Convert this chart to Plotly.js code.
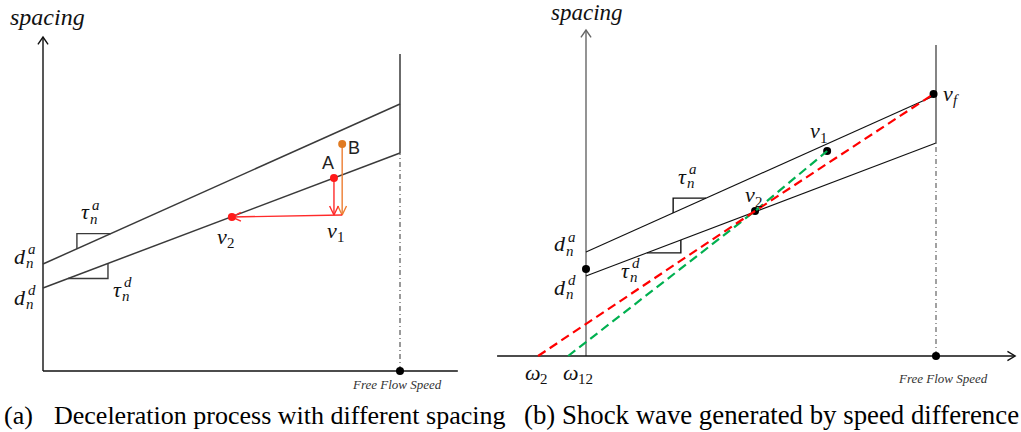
<!DOCTYPE html>
<html>
<head>
<meta charset="utf-8">
<script src="https://cdn.plot.ly/plotly-3.0.1.min.js"></script>
<style>
  html, body { margin: 0; padding: 0; background: #ffffff; }
  #chart { width: 1021px; height: 432px; }
</style>
</head>
<body>
<div id="chart"></div>
<script>
// ===== Panel (a): deceleration process with different spacing =====
// speed in units where the free-flow speed is 10, spacing in metres
const aFreeFlow      = 10;
const aLineSpeed     = [0, 10];          // ends of both spacing lines
const aAccelSpacing  = [10.7, 26.7];     // d_n^a line (upper)
const aDecelSpacing  = [8.3, 21.8];      // d_n^d line (lower)
const aPointA        = [8.15, 19.3];     // A on the deceleration line
const aPointB        = [8.38, 22.7];     // B between the lines
const aPointV2       = [5.29, 15.4];     // v2 on the deceleration line
const aV1Spacing     = 15.6;             // spacing reached at v1
const aFreeTop       = 31.7;             // top of free-flow boundary
const aAxisTop       = 33.4;
const aAxisRight     = 11.62;

// ===== Panel (b): shock wave generated by speed difference =====
const bFreeFlow      = 10;
const bLineSpeed     = [0, 10];
const bAccelSpacing  = [10.4, 26.1];
const bDecelSpacing  = [8.0, 21.3];
const bPointDnd      = [0, 8.7];
const bPointV1       = [6.89, 20.5];
const bPointV2       = [4.83, 14.5];
const bPointVf       = [9.93, 26.2];
const bOmega2        = -1.37;            // red wave meets speed axis
const bOmega12       = -0.51;            // green wave meets speed axis
const bFreeTop       = 31.1;
const bAxisTop       = 32.6;
const bAxisLeft      = -2.54;
const bAxisRight     = 12.26;

// ----- frame geometry (pixels) -----
const W = 1021, H = 432;
const KX_A = 35.7, KX_B = 35, KY = 10;          // px per unit
const A_ORIGIN = [43, 371], B_ORIGIN = [586, 356];
const A_DOM = [0, 0.47], B_DOM = [0.48, 1];
const SERIF = '"Liberation Serif", "Times New Roman", Times, serif';
const SANS = '"Liberation Sans", Arial, sans-serif';

function xRange(dom, originPx, k) {
  const startPx = dom[0] * W, widthPx = (dom[1] - dom[0]) * W;
  const r0 = (startPx - originPx) / k;
  return [r0, r0 + widthPx / k];
}
function yRange(originPy) {
  return [(originPy - H) / KY, originPy / KY];
}

// open chevron arrowhead at a tip, pointing along dir (pixel space, y down)
function chevron(tip, dir, len, half, kx) {
  const ang = Math.atan2(dir[1], dir[0]);
  const xs = [], ys = [];
  [-1, 1].forEach((s, i) => {
    const a = ang + Math.PI + s * half;
    xs.push(tip[0] + len * Math.cos(a) / kx);
    ys.push(tip[1] - len * Math.sin(a) / KY);
    if (i === 0) { xs.push(tip[0]); ys.push(tip[1]); }
  });
  return { x: xs, y: ys };
}

const traces = [];
function line(ax, x, y, color, width, dash) {
  traces.push({
    type: 'scatter', mode: 'lines', xaxis: ax[0], yaxis: ax[1],
    x: x, y: y, hoverinfo: 'skip', showlegend: false,
    line: { color: color, width: width, dash: dash || 'solid' }
  });
}
function dots(ax, x, y, color, size) {
  traces.push({
    type: 'scatter', mode: 'markers', xaxis: ax[0], yaxis: ax[1],
    x: x, y: y, hoverinfo: 'skip', showlegend: false, cliponaxis: false,
    marker: { color: color, size: size }
  });
}
// slope triangle resting on a spacing line
function slopeStep(ax, speed, spacing, xs, dx, below, color) {
  const k = (spacing[1] - spacing[0]) / (speed[1] - speed[0]);
  const at = x => spacing[0] + k * (x - speed[0]);
  if (below) {
    line(ax, [xs, xs + dx, xs + dx], [at(xs), at(xs), at(xs + dx)], color, 1.4);
  } else {
    line(ax, [xs, xs, xs + dx], [at(xs), at(xs + dx), at(xs + dx)], color, 1.4);
  }
}

// ----- panel (a) -----
const A = ['x', 'y'];
const darkA = '#3a3a3a';
line(A, [0, 0], [0, aAxisTop], '#111', 1.4);
line(A, [0, aAxisRight], [0, 0], '#111', 1.6);
let h = chevron([0, aAxisTop], [0, -1], 9, 0.6, KX_A);
line(A, h.x, h.y, '#111', 1.4);
line(A, aLineSpeed, aAccelSpacing, darkA, 1.5);
line(A, aLineSpeed, aDecelSpacing, darkA, 1.5);
line(A, [aFreeFlow, aFreeFlow], [aDecelSpacing[1], aFreeTop], darkA, 1.5);
line(A, [aFreeFlow, aFreeFlow], [0, aDecelSpacing[1]], '#555', 1.2, '5px,3px,1px,3px');
slopeStep(A, aLineSpeed, aAccelSpacing, 0.95, 0.95, false, darkA);
slopeStep(A, aLineSpeed, aDecelSpacing, 0.70, 1.12, true, darkA);
// vertical drops from A and B to v1, then the slide back to v2
line(A, [aPointB[0], aPointB[0]], [aPointB[1], aV1Spacing], '#ed7d31', 1.4);
h = chevron([aPointB[0], aV1Spacing], [0, 1], 10, 0.45, KX_A);
line(A, h.x, h.y, '#ed7d31', 1.4);
line(A, [aPointA[0], aPointA[0]], [aPointA[1], aV1Spacing], '#ff2a2a', 1.4);
h = chevron([aPointA[0], aV1Spacing], [0, 1], 10, 0.45, KX_A);
line(A, h.x, h.y, '#ff2a2a', 1.4);
line(A, [aPointB[0], aPointV2[0]], [aV1Spacing, aPointV2[1]], '#ff2a2a', 1.4);
h = chevron(aPointV2, [-1, 0.02], 10, 0.45, KX_A);
line(A, h.x, h.y, '#ff2a2a', 1.4);
dots(A, [aPointA[0], aPointV2[0]], [aPointA[1], aPointV2[1]], '#ff1a1a', 8);
dots(A, [aPointB[0]], [aPointB[1]], '#e07b22', 8);
dots(A, [aFreeFlow], [0], '#000', 8);

// ----- panel (b) -----
const B = ['x2', 'y2'];
line(B, [0, 0], [0, bAxisTop], '#666', 1.4);
line(B, [bAxisLeft, bAxisRight], [0, 0], '#111', 1.4);
h = chevron([0, bAxisTop], [0, -1], 9, 0.6, KX_B);
line(B, h.x, h.y, '#666', 1.4);
h = chevron([bAxisRight, 0], [1, 0], 9, 0.55, KX_B);
line(B, h.x, h.y, '#111', 1.4);
line(B, bLineSpeed, bAccelSpacing, '#111', 1.1);
line(B, bLineSpeed, bDecelSpacing, '#111', 1.1);
line(B, [bFreeFlow, bFreeFlow], [bDecelSpacing[1], bFreeTop], '#333', 1.2);
line(B, [bFreeFlow, bFreeFlow], [0, bDecelSpacing[1]], '#555', 1.1, '5px,3px,1px,3px');
slopeStep(B, bLineSpeed, bAccelSpacing, 2.49, 0.94, false, '#111');
slopeStep(B, bLineSpeed, bDecelSpacing, 1.74, 0.97, true, '#111');
dots(B, [bPointDnd[0], bPointV1[0], bPointV2[0], bPointVf[0], bFreeFlow],
        [bPointDnd[1], bPointV1[1], bPointV2[1], bPointVf[1], 0], '#000', 8);
line(B, [bOmega12, bPointV2[0], bPointV1[0]], [0, bPointV2[1], bPointV1[1]], '#00b050', 2.2, '9px,5px');
line(B, [bOmega2, bPointV2[0], bPointVf[0]], [0, bPointV2[1], bPointVf[1]], '#ff0000', 2.2, '9px,5px');

// ----- text -----
const annotations = [];
function txt(px, py, text, size, opts) {
  opts = opts || {};
  annotations.push({
    xref: 'paper', yref: 'paper', x: px / W, y: 1 - py / H,
    xanchor: opts.anchor || 'center', yanchor: 'middle', showarrow: false, text: text,
    borderpad: 0,
    font: { family: opts.family || SERIF, size: size, color: opts.color || '#111' }
  });
}
// half-widths (em) of the italic base symbols, for placing scripts
const HALF = { d: 0.25, 'τ': 0.22, v: 0.21, 'ω': 0.33 };
// math symbol with optional superscript and subscript
function sym(px, py, base, sup, sub, size) {
  txt(px, py, '<i>' + base + '</i>', size);
  const s = size * 0.68;
  const left = px + HALF[base] * size;
  if (sup) txt(left + 1, py - size * 0.32, '<i>' + sup + '</i>', s, { anchor: 'left' });
  if (sub) txt(left - 1, py + size * 0.3, /\d/.test(sub) ? sub : '<i>' + sub + '</i>', s, { anchor: 'left' });
}

txt(47, 17, '<i>spacing</i>', 24);
sym(20, 256, 'd', 'a', 'n', 22);
sym(20, 297, 'd', 'd', 'n', 22);
sym(85, 212, 'τ', 'a', 'n', 22);
sym(117, 289, 'τ', 'd', 'n', 22);
sym(222, 236, 'v', null, '2', 22);
sym(332, 230, 'v', null, '1', 22);
txt(328, 163, 'A', 18, { family: SANS, color: '#222' });
txt(354, 148, 'B', 18, { family: SANS, color: '#222' });
txt(397, 384, '<i>Free Flow Speed</i>', 13, { color: '#333' });

txt(587, 12, '<i>spacing</i>', 23);
sym(560, 244, 'd', 'a', 'n', 22);
sym(560, 287, 'd', 'd', 'n', 22);
sym(682, 176, 'τ', 'a', 'n', 22);
sym(625, 270, 'τ', 'd', 'n', 22);
sym(815, 131, 'v', null, '1', 22);
sym(750, 195, 'v', null, '2', 22);
sym(948, 93, 'v', null, 'f', 22);
sym(533, 372, 'ω', null, '2', 22);
sym(571, 372, 'ω', null, '12', 22);
txt(943, 378, '<i>Free Flow Speed</i>', 13, { color: '#333' });

// captions
txt(3, 415, '(a)', 26, { anchor: 'left', color: '#000' });
txt(53, 415, 'Deceleration process with different spacing', 26, { anchor: 'left', color: '#000' });
txt(523, 415, '(b) Shock wave generated by speed difference', 26.8, { anchor: 'left', color: '#000' });

const hidden = { showgrid: false, zeroline: false, showticklabels: false, ticks: '', showline: false, fixedrange: true };
const layout = {
  width: W, height: H, autosize: false,
  margin: { l: 0, r: 0, t: 0, b: 0, pad: 0 },
  paper_bgcolor: '#ffffff', plot_bgcolor: 'rgba(0,0,0,0)',
  xaxis:  Object.assign({ domain: A_DOM, range: xRange(A_DOM, A_ORIGIN[0], KX_A) }, hidden),
  yaxis:  Object.assign({ domain: [0, 1], range: yRange(A_ORIGIN[1]) }, hidden),
  xaxis2: Object.assign({ domain: B_DOM, range: xRange(B_DOM, B_ORIGIN[0], KX_B), anchor: 'y2' }, hidden),
  yaxis2: Object.assign({ domain: [0, 1], range: yRange(B_ORIGIN[1]), anchor: 'x2' }, hidden),
  annotations: annotations,
  showlegend: false
};

Plotly.newPlot('chart', traces, layout, { staticPlot: true, displayModeBar: false });
</script>
</body>
</html>
